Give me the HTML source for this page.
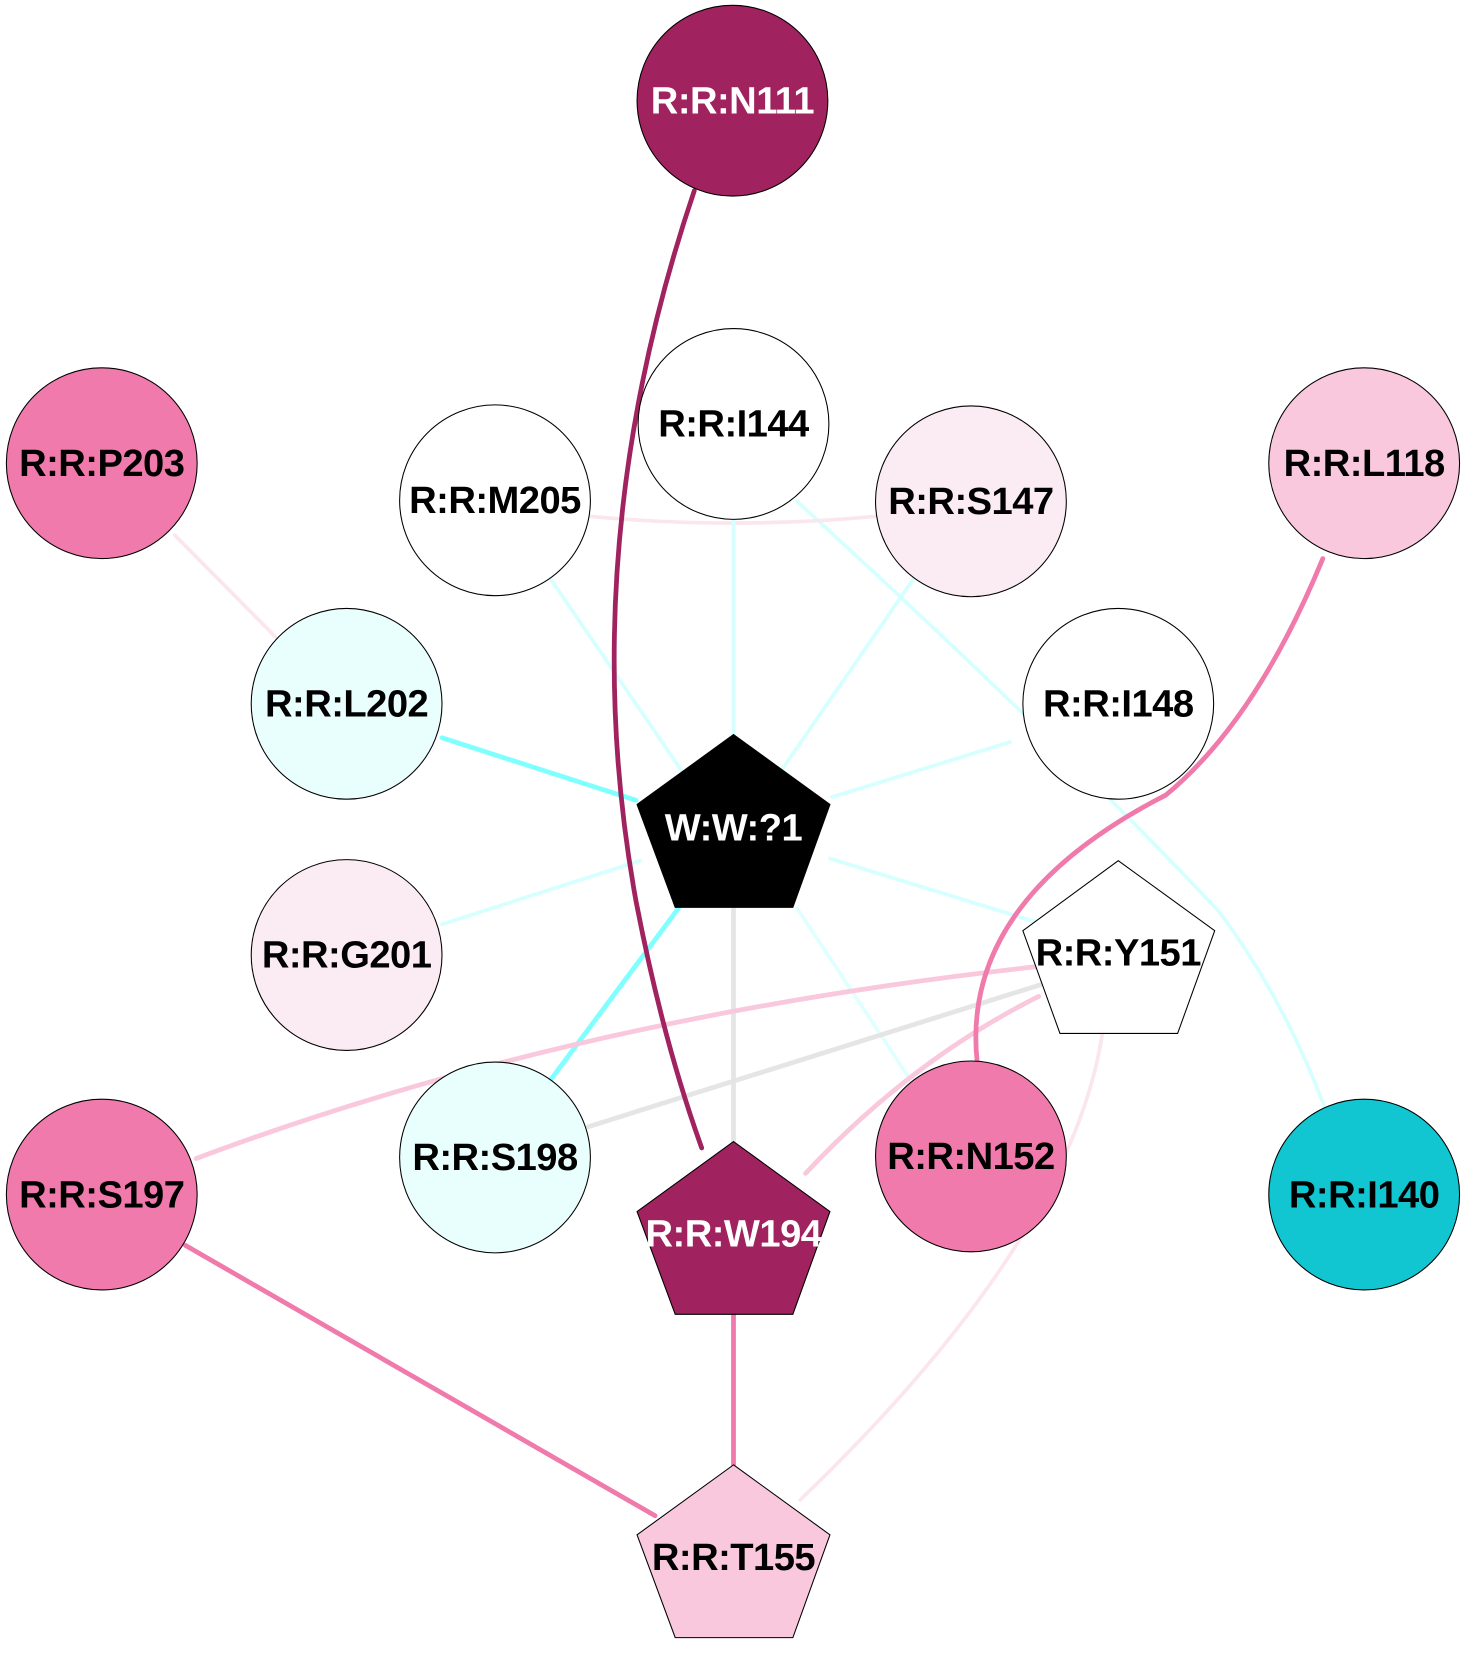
<!DOCTYPE html>
<html><head><style>html,body{margin:0;padding:0;background:#fff}svg{display:block}</style></head>
<body>
<svg width="1467" height="1662" viewBox="0 0 1384 1568" xmlns="http://www.w3.org/2000/svg">
<rect width="1384" height="1568" fill="#fff"/>
<g fill="none" stroke-linecap="round">
<path d="M752 473 Q1000 700 1150 860 Q1210 940 1250 1045" stroke="#d6ffff" stroke-width="3.5"/>
<path d="M555 487 Q690 500 828 487" stroke="#fbe6ee" stroke-width="3.5"/>
<line x1="692" y1="490" x2="692" y2="693" stroke="#d6ffff" stroke-width="3.5"/>
<line x1="520" y1="547" x2="645" y2="730" stroke="#d6ffff" stroke-width="3.5"/>
<line x1="866" y1="540" x2="737" y2="727" stroke="#d6ffff" stroke-width="3.5"/>
<line x1="165" y1="505" x2="262" y2="603" stroke="#fbe6ee" stroke-width="3.5"/>
<line x1="417" y1="696" x2="600" y2="755" stroke="#80ffff" stroke-width="4.5"/>
<line x1="953" y1="700" x2="785" y2="752" stroke="#d6ffff" stroke-width="3.5"/>
<line x1="417" y1="872" x2="604" y2="812" stroke="#d6ffff" stroke-width="3.5"/>
<line x1="783" y1="810" x2="978" y2="870" stroke="#d6ffff" stroke-width="3.5"/>
<line x1="752" y1="857" x2="857" y2="1016" stroke="#e0ffff" stroke-width="3.5"/>
<line x1="640" y1="857" x2="520" y2="1018" stroke="#80ffff" stroke-width="4.5"/>
<line x1="692" y1="856" x2="692" y2="1077" stroke="#e5e5e5" stroke-width="4.5"/>
<line x1="985" y1="928" x2="555" y2="1063" stroke="#e5e5e5" stroke-width="4.5"/>
<path d="M1040 975 Q1010 1170 755 1415" stroke="#fce6ee" stroke-width="3.5"/>
<path d="M978 912 Q540 960 185 1093" stroke="#f9c8dc" stroke-width="4.5"/>
<path d="M980 940 Q860 1000 760 1107" stroke="#f9c8dc" stroke-width="4.5"/>
<path d="M1248 527 Q1185 680 1100 750 Q905 850 922 1003" stroke="#ef7aab" stroke-width="4.5"/>
<line x1="175" y1="1175" x2="618" y2="1430" stroke="#ef7aab" stroke-width="4.5"/>
<line x1="692" y1="1240" x2="692" y2="1382" stroke="#ef7aab" stroke-width="4.5"/>
<path d="M655 180 Q540 520 600 850 Q625 980 662 1083" stroke="#a0225e" stroke-width="4.5"/>
</g>
<g stroke="#000" stroke-width="1">
<circle cx="691" cy="95" r="90" fill="#a0225e"/>
<circle cx="692" cy="400" r="90" fill="#fff"/>
<circle cx="467" cy="472" r="90" fill="#fff"/>
<circle cx="916" cy="473" r="90" fill="#fbebf2"/>
<circle cx="96" cy="437" r="90" fill="#ef7aab"/>
<circle cx="1287" cy="437" r="90" fill="#f9c8dc"/>
<circle cx="327" cy="664" r="90" fill="#e8fffe"/>
<circle cx="1055" cy="664" r="90" fill="#fff"/>
<circle cx="327" cy="901" r="90" fill="#fbebf2"/>
<circle cx="467" cy="1092" r="90" fill="#e8fffe"/>
<circle cx="916" cy="1091" r="90" fill="#ef7aab"/>
<circle cx="1287" cy="1127" r="90" fill="#11c6d0"/>
<circle cx="96" cy="1127" r="90" fill="#ef7aab"/>
<polygon points="692,693 783,759 748,856 637,856 601,759" fill="#000"/>
<polygon points="1055,812 1146,878 1111,975 1000,975 965,878" fill="#fff"/>
<polygon points="692,1077 783,1143 748,1240 637,1240 601,1143" fill="#a0225e"/>
<polygon points="692,1382 783,1448 748,1545 637,1545 601,1448" fill="#f9c8dc"/>
</g>
<g font-family="Liberation Sans, Arial, sans-serif" font-weight="bold" font-size="36" text-anchor="middle" fill="#000" letter-spacing="-0.5">
<text x="691" y="107" fill="#fff">R:R:N111</text>
<text x="692" y="412">R:R:I144</text>
<text x="467" y="484">R:R:M205</text>
<text x="916" y="485">R:R:S147</text>
<text x="96" y="449">R:R:P203</text>
<text x="1287" y="449">R:R:L118</text>
<text x="327" y="676">R:R:L202</text>
<text x="1055" y="676">R:R:I148</text>
<text x="692" y="793" fill="#fff">W:W:?1</text>
<text x="327" y="913">R:R:G201</text>
<text x="1055" y="911">R:R:Y151</text>
<text x="467" y="1104">R:R:S198</text>
<text x="916" y="1103">R:R:N152</text>
<text x="1287" y="1139">R:R:I140</text>
<text x="96" y="1139">R:R:S197</text>
<text x="692" y="1176" fill="#fff">R:R:W194</text>
<text x="692" y="1481">R:R:T155</text>
</g>
</svg>
</body></html>
